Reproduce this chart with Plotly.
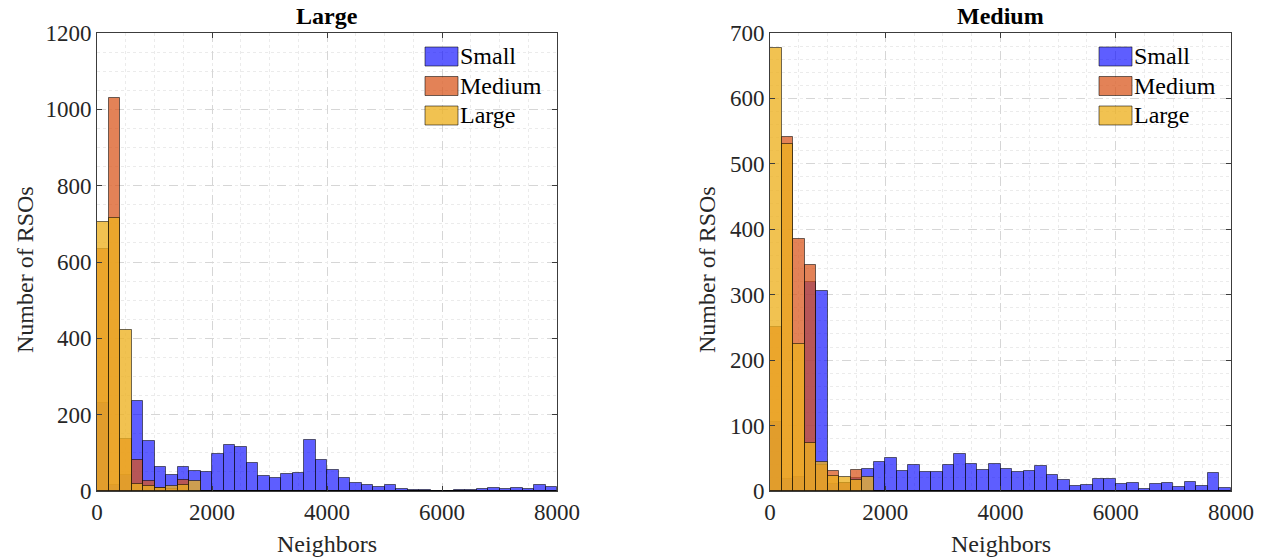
import plotly.graph_objects as go

W, H = 1267, 559

bin_edges = list(range(0, 8001, 200))
x_ticks = [0, 2000, 4000, 6000, 8000]

# Left panel ("Large")
large_panel_small = [230, 17, 41, 236, 131, 62, 41, 64, 52, 51, 96, 120, 114, 74, 39, 34, 45, 48, 133, 82,
                     54, 35, 22, 15, 11, 16, 5, 2, 3, 1, 0, 2, 3, 5, 7, 4, 8, 6, 17, 10]
large_panel_medium = [634, 1030, 135, 80, 26, 8, 5, 29, 0, 0, 0, 0, 0, 0, 0, 0, 0, 0, 0, 0,
                      0, 0, 0, 0, 0, 0, 0, 0, 0, 0, 0, 0, 0, 0, 0, 0, 0, 0, 0, 0]
large_panel_large = [706, 714, 421, 19, 14, 9, 13, 16, 25, 0, 0, 0, 0, 0, 0, 0, 0, 0, 0, 0,
                     0, 0, 0, 0, 0, 0, 0, 0, 0, 0, 0, 0, 0, 0, 0, 0, 0, 0, 0, 0]

# Right panel ("Medium")
medium_panel_small = [106, 18, 22, 320, 306, 10, 12, 20, 33, 45, 51, 30, 39, 29, 29, 39, 56, 41, 32, 41,
                      34, 29, 30, 38, 25, 17, 8, 9, 19, 19, 10, 12, 3, 11, 12, 6, 13, 8, 27, 4]
medium_panel_medium = [250, 541, 385, 346, 40, 30, 12, 32, 0, 0, 0, 0, 0, 0, 0, 0, 0, 0, 0, 0,
                       0, 0, 0, 0, 0, 0, 0, 0, 0, 0, 0, 0, 0, 0, 0, 0, 0, 0, 0, 0]
medium_panel_large = [677, 531, 225, 73, 45, 23, 21, 17, 21, 0, 0, 0, 0, 0, 0, 0, 0, 0, 0, 0,
                      0, 0, 0, 0, 0, 0, 0, 0, 0, 0, 0, 0, 0, 0, 0, 0, 0, 0, 0, 0]

series_names = ["Small", "Medium", "Large"]
panel_titles = ["Large", "Medium"]
y_ticks_left = [0, 200, 400, 600, 800, 1000, 1200]
y_ticks_right = [0, 100, 200, 300, 400, 500, 600, 700]

colors = ["rgba(0,0,255,0.63)", "rgba(217,83,25,0.73)", "rgba(237,177,32,0.78)"]
edge = "rgba(0,0,0,0.55)"
FONT = "Liberation Serif, Times New Roman, serif"

centers = [(bin_edges[i] + bin_edges[i + 1]) / 2 for i in range(len(bin_edges) - 1)]
widths = [bin_edges[i + 1] - bin_edges[i] for i in range(len(bin_edges) - 1)]

fig = go.Figure()
panels = [
    ("x", "y", [large_panel_small, large_panel_medium, large_panel_large]),
    ("x2", "y2", [medium_panel_small, medium_panel_medium, medium_panel_large]),
]
for xa, ya, data in panels:
    for name, vals, col in zip(series_names, data, colors):
        fig.add_trace(go.Bar(x=centers, y=vals, width=widths, name=name, xaxis=xa, yaxis=ya,
                             marker=dict(color=col, line=dict(color=edge, width=1)),
                             showlegend=False))

def fx(px):
    return px / W

def fy(py):
    return 1 - py / H

ydom = [fy(491), fy(33)]
left_dom = [fx(97), fx(557)]
right_dom = [fx(770), fx(1231)]

axis_common = dict(
    showline=True, linecolor="#3c3c3c", linewidth=1, mirror="ticks",
    ticks="inside", ticklen=5, tickcolor="#3c3c3c",
    tickfont=dict(family=FONT, size=23, color="#262626"),
    showgrid=True, gridcolor="#d6d6d6", griddash="dash", gridwidth=1,
    zeroline=False, automargin=False,
)

fig.update_layout(
    width=W, height=H, margin=dict(l=0, r=0, t=0, b=0),
    paper_bgcolor="white", plot_bgcolor="white", barmode="overlay", bargap=0,
    xaxis=dict(domain=left_dom, range=[0, 8000], tickvals=x_ticks, anchor="y",
               minor=dict(dtick=500, showgrid=True, gridcolor="#ebebeb", griddash="dot", ticks=""),
               **axis_common),
    yaxis=dict(domain=ydom, range=[0, 1200], tickvals=y_ticks_left, anchor="x",
               minor=dict(dtick=50, showgrid=True, gridcolor="#ebebeb", griddash="dot", ticks=""),
               **axis_common),
    xaxis2=dict(domain=right_dom, range=[0, 8000], tickvals=x_ticks, anchor="y2",
                minor=dict(dtick=500, showgrid=True, gridcolor="#ebebeb", griddash="dot", ticks=""),
                **axis_common),
    yaxis2=dict(domain=ydom, range=[0, 700], tickvals=y_ticks_right, anchor="x2",
                minor=dict(dtick=20, showgrid=True, gridcolor="#ebebeb", griddash="dot", ticks=""),
                **axis_common),
)

annotations = []
shapes = []
for i, (dom, title) in enumerate(zip([left_dom, right_dom], panel_titles)):
    cx = (dom[0] + dom[1]) / 2
    annotations.append(dict(text="<b>" + title + "</b>", x=cx, y=fy(16), xref="paper", yref="paper",
                            showarrow=False, font=dict(family=FONT, size=24, color="black"),
                            xanchor="center", yanchor="middle"))
    annotations.append(dict(text="Neighbors", x=cx, y=fy(544), xref="paper", yref="paper",
                            showarrow=False, font=dict(family=FONT, size=24, color="#262626"),
                            xanchor="center", yanchor="middle"))
    ylab_x = 25 if i == 0 else 707
    annotations.append(dict(text="Number of RSOs", x=fx(ylab_x), y=fy(270),
                            xref="paper", yref="paper", textangle=-90, showarrow=False,
                            font=dict(family=FONT, size=24, color="#262626"),
                            xanchor="center", yanchor="middle"))
    # legend
    sw_x0 = 425 if i == 0 else 1099
    for j, (name, col) in enumerate(zip(series_names, colors)):
        y0 = 47 + j * 29.5
        shapes.append(dict(type="rect", xref="paper", yref="paper",
                           x0=fx(sw_x0), x1=fx(sw_x0 + 33), y0=fy(y0 + 19), y1=fy(y0),
                           fillcolor=col, line=dict(color=edge, width=1)))
        annotations.append(dict(text=name, x=fx(sw_x0 + 33), y=fy(y0 + 9.5), xref="paper", yref="paper",
                                showarrow=False, font=dict(family=FONT, size=24, color="black"),
                                xanchor="left", yanchor="middle"))

fig.update_layout(annotations=annotations, shapes=shapes)
fig.write_html("out.html")
